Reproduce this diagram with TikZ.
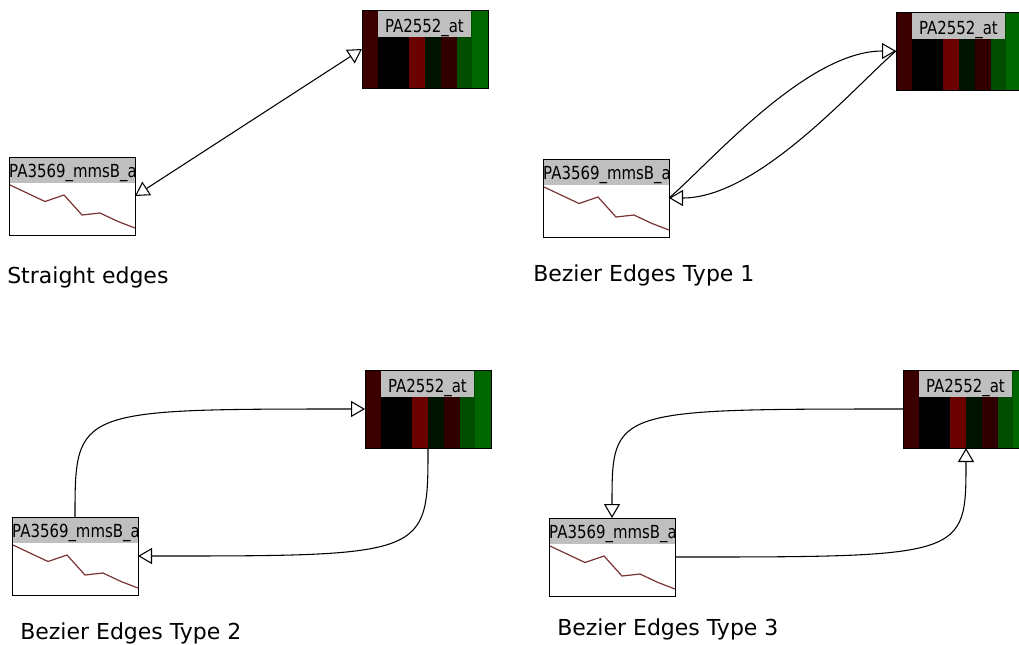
\documentclass[tikz,border=0pt]{standalone}
\usepackage{fontspec}
\setmainfont{DejaVu Sans}
\newfontfamily\boxfont[FakeStretch=0.83]{DejaVu Sans}
\usetikzlibrary{arrows.meta}

\definecolor{hmA}{HTML}{3A0000}
\definecolor{hmB}{HTML}{6B0000}
\definecolor{hmC}{HTML}{001200}
\definecolor{hmD}{HTML}{300000}
\definecolor{hmE}{HTML}{004D00}
\definecolor{hmF}{HTML}{006600}
\definecolor{trend}{HTML}{7B3333}

\tikzset{
  box/.style={draw, line width=0.75pt, inner sep=0pt, outer sep=0pt,
    minimum width=94.5pt, minimum height=58.5pt, anchor=north west},
  boxlabel/.style={anchor=base, inner sep=0pt, font=\boxfont\fontsize{13.5}{16}\selectfont},
  edge/.style={draw, line width=0.8pt},
  tip/.tip={Triangle[length=10.5pt, width=12pt, fill=white]},
  caption/.style={anchor=base west, inner sep=0pt, font=\fontsize{16.5}{19}\selectfont}
}

% heat map box: name, top left corner
\newcommand{\hmapbox}[2]{%
  \begin{scope}[shift={(#2)}]
    \fill[hmA] (0,0) rectangle (15.75,78);
    \fill[black] (15.75,0) rectangle (47.25,78);
    \fill[hmB] (47.25,0) rectangle (63,78);
    \fill[hmC] (63,0) rectangle (78.75,78);
    \fill[hmD] (78.75,0) rectangle (94.5,78);
    \fill[hmE] (94.5,0) rectangle (110.25,78);
    \fill[hmF] (110.25,0) rectangle (126,78);
    \fill[gray!50] (15.75,0) rectangle (109,27);
    \node[boxlabel] (#1-lbl) at (62.4,22) {PA2552\_at};
  \end{scope}
  \node[box] (#1) at (#2) {};
}
% profile box: name, top left corner
\newcommand{\profbox}[2]{%
  \begin{scope}[shift={(#2)}]
    \clip (0,0) rectangle (126,78);
    \fill[gray!50] (0,0) rectangle (126,26);
    \node[boxlabel] (#1-lbl) at (64,20) {PA3569\_mmsB\_a};
    \draw[trend, line width=0.9pt] (1,28) -- (36,44.5) -- (55,38) -- (73,58) -- (91,56) -- (109,64.5) -- (126,71);
  \end{scope}
  \node[box] (#1) at (#2) {};
}

\begin{document}
\begin{tikzpicture}[x=0.75pt, y=-0.75pt]
\useasboundingbox (0,0) rectangle (1019,644);
\clip (0,0) rectangle (1019,644);

% straight edges
\hmapbox{at1}{362,10}
\profbox{mms1}{9,157}
\draw[edge, tip-tip] (mms1.east) -- (at1.west);
\node[caption] (cap1) at (7,283) {Straight edges};

% bezier type 1
\hmapbox{at2}{896,12}
\profbox{mms2}{543,159}
\draw[edge, -tip] (at2.west) .. controls +(-40,34) and +(90,0) .. (mms2.east);
\draw[edge, -tip] (mms2.east) .. controls +(40,-34) and +(-90,0) .. (at2.west);
\node[caption] (cap2) at (533,281) {Bezier Edges Type 1};

% bezier type 2
\hmapbox{at3}{365,370}
\profbox{mms3}{12,517}
\draw[edge, -tip] (mms3.north) .. controls (mms3.north |- at3.west) .. (at3.west);
\draw[edge, -tip] (at3.south) .. controls (at3.south |- mms3.east) .. (mms3.east);
\node[caption] (cap3) at (20,639) {Bezier Edges Type 2};

% bezier type 3
\hmapbox{at4}{903,370}
\profbox{mms4}{549,518}
\draw[edge, -tip] (at4.west) .. controls (mms4.north |- at4.west) .. (mms4.north);
\draw[edge, -tip] (mms4.east) .. controls (at4.south |- mms4.east) .. (at4.south);
\node[caption] (cap4) at (557,635) {Bezier Edges Type 3};
\end{tikzpicture}
\end{document}
